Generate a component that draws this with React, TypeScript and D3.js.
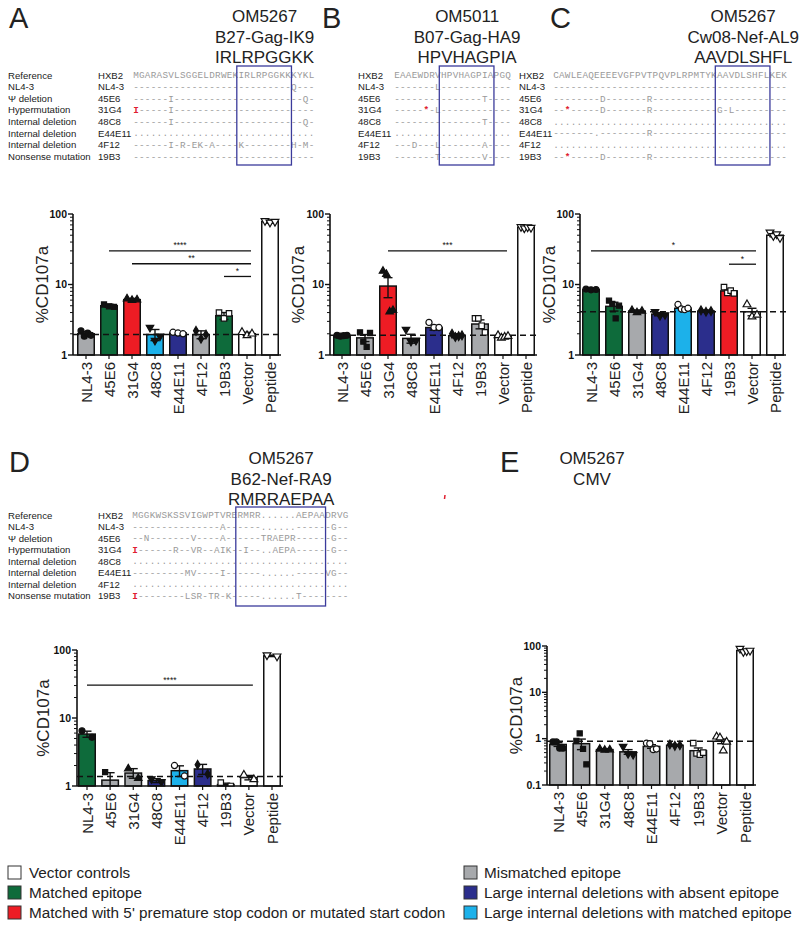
import React from "react";
import * as d3 from "d3";

const FONT = "'Liberation Sans', Arial, Helvetica, sans-serif";
const MONO = "'Liberation Mono', 'Courier New', monospace";

const categories = ["NL4-3", "45E6", "31G4", "48C8", "E44E11", "4F12", "19B3", "Vector", "Peptide"];
const rowTypes = ["Reference", "NL4-3", "Ψ deletion", "Hypermutation", "Internal deletion", "Internal deletion", "Internal deletion", "Nonsense mutation"];
const rowIds = ["HXB2", "NL4-3", "45E6", "31G4", "48C8", "E44E11", "4F12", "19B3"];

const PALETTE: Record<string, string> = {
  gray: "#a7a9ac", green: "#0e6b3b", red: "#ed1c24", light: "#1cb1ea", dark: "#2b2e8c", white: "#ffffff",
};

// ---------- sequences (mutations: index -> residue; "!" prefix = red) ----------
const seqA_ref = "MGARASVLSGGELDRWEKIRLRPGGKKKYKL";
const seqA_rows: [string, Record<number, string>][] = [
  ["-", { 27: "Q" }],
  ["-", { 6: "I", 29: "Q" }],
  ["-", { 0: "!I", 6: "I" }],
  ["-", { 6: "I", 29: "Q" }],
  [".", {}],
  ["-", { 6: "I", 8: "R", 10: "E", 11: "K", 13: "A", 18: "K", 27: "H", 29: "M" }],
  ["-", {}],
];
const seqB_ref = "EAAEWDRVHPVHAGPIAPGQ";
const seqB_rows: [string, Record<number, string>][] = [
  ["-", { 7: "L" }],
  ["-", { 15: "T" }],
  ["-", { 5: "!*", 7: "L" }],
  ["-", { 15: "T" }],
  [".", {}],
  ["-", { 3: "D", 7: "L", 15: "A" }],
  ["-", { 7: "T", 15: "V" }],
];
const seqC_ref = "CAWLEAQEEEEVGFPVTPQVPLRPMTYKAAVDLSHFLKEK";
const seqC_rows: [string, Record<number, string>][] = [
  ["-", {}],
  ["-", { 8: "D", 16: "R" }],
  ["-", { 2: "!*", 8: "D", 16: "R", 28: "G", 30: "L" }],
  [".", {}],
  ["-", { 7: ".", 16: "R" }],
  [".", {}],
  ["-", { 2: "!*", 8: "D", 16: "R" }],
];
const seqD_ref = "MGGKWSKSSVIGWPTVRERMRR......AEPAADRVG";
const dDots = { 22: ".", 23: ".", 24: ".", 25: ".", 26: ".", 27: "." };
const seqD_rows: [string, Record<number, string>][] = [
  ["-", { 15: "A", ...dDots, 34: "G" }],
  ["-", { 2: "N", 10: "V", 15: "A", 22: "T", 23: "R", 24: "A", 25: "E", 26: "P", 27: "R", 34: "G" }],
  ["-", { 0: "!I", 7: "R", 10: "V", 11: "R", 14: "A", 15: "I", 16: "K", 19: "I", 22: ".", 23: ".", 24: "A", 25: "E", 26: "P", 27: "A", 34: "G" }],
  [".", {}],
  ["-", { 9: "M", 10: "V", 15: "I", ...dDots, 33: "V", 34: "G" }],
  [".", {}],
  ["-", { 0: "!I", 9: "L", 10: "S", 11: "R", 13: "T", 14: "R", 16: "K", ...dDots, 28: "T" }],
];

// ---------- bar chart data ----------
const colorsA = ["gray", "green", "red", "light", "dark", "gray", "green", "white", "white"];
const meansA = [2.0, 5.0, 6.1, 1.95, 2.05, 1.95, 3.6, 2.0, 78];
const semsA = [0.15, 0.25, 0.25, 0.35, 0.08, 0.25, 0.4, 0.1, 4];
const pointsA = [[2.2, 1.85, 2.05, 1.9], [5.2, 4.9, 4.8], [6.3, 6.0, 6.1], [2.45, 1.6, 1.85], [2.1, 2.05, 2.0], [2.2, 1.7, 1.95], [4.0, 3.3, 3.9], [2.1, 1.9, 2.0], [80, 76, 78]];

const colorsB = ["green", "gray", "red", "gray", "dark", "gray", "gray", "white", "white"];
const meansB = [1.88, 1.75, 9.5, 1.72, 2.45, 1.88, 2.75, 1.82, 65];
const semsB = [0.05, 0.2, 3.0, 0.25, 0.2, 0.12, 0.4, 0.1, 3];
const pointsB = [[1.9, 1.85, 1.88, 1.9], [2.1, 1.55, 1.3, 2.05], [15.5, 14, 4.1, 4.3], [2.3, 1.55, 1.6], [2.9, 2.45, 2.45], [2.0, 1.8, 1.85, 1.9], [3.3, 3.3, 2.6, 2.1], [1.9, 1.75, 1.8, 1.85], [66, 63, 65, 64]];

const colorsC = ["green", "green", "gray", "dark", "light", "dark", "red", "white", "white"];
const meansC = [8.5, 4.9, 4.2, 3.8, 4.6, 4.2, 8.1, 4.1, 50];
const semsC = [0.15, 0.7, 0.15, 0.2, 0.2, 0.15, 0.5, 0.5, 3];
const pointsC = [[8.6, 8.4, 8.5], [5.9, 5.3, 3.3, 5.0], [4.3, 4.0, 4.2], [4.1, 3.6, 3.7], [5.2, 4.5, 4.4, 4.6], [4.3, 4.1, 4.2], [9.2, 7.6, 8.2, 7.5], [5.2, 3.5, 3.7], [55, 49, 52, 46]];

const colorsD = ["green", "gray", "gray", "dark", "light", "dark", "gray", "white", "white"];
const meansD = [5.8, 1.22, 1.55, 1.2, 1.68, 1.78, 1.05, 1.33, 82];
const semsD = [0.6, 0.35, 0.25, 0.08, 0.3, 0.3, 0.05, 0.1, 2];
const pointsD = [[6.5, 5.2], [1.6, 0.9], [1.8, 1.3], [1.27, 1.15], [2.0, 1.4], [2.05, 1.5], [1.12, 1.0], [1.45, 1.25], [84, 81]];

const colorsE = ["gray", "gray", "gray", "gray", "gray", "gray", "gray", "white", "white"];
const meansE = [0.75, 0.78, 0.58, 0.52, 0.68, 0.72, 0.55, 0.88, 80];
const semsE = [0.07, 0.2, 0.03, 0.06, 0.06, 0.03, 0.08, 0.1, 5];
const pointsE = [[0.85, 0.85, 0.62, 0.62], [0.9, 1.3, 0.6, 0.28], [0.6, 0.57, 0.58], [0.68, 0.47, 0.45], [0.8, 0.78, 0.58, 0.6], [0.75, 0.7, 0.72], [0.8, 0.48, 0.45, 0.5], [1.1, 1.05, 0.55, 0.85], [88, 75, 78, 80]];

const ticks1 = ["1", "10", "100"];
const ticksE = ["0.1", "1", "10", "100"];

const sigA: [number, number, number, string][] = [[1, 7, 30, "****"], [2, 7, 19.7, "**"], [6, 7, 13, "*"]];
const sigB: [number, number, number, string][] = [[2, 7, 30, "***"]];
const sigC: [number, number, number, string][] = [[0, 7, 30, "*"], [6, 7, 19.4, "*"]];
const sigD: [number, number, number, string][] = [[0, 7, 30.5, "****"]];
const sigE: [number, number, number, string][] = [];

const legendLeft = [["white", "Vector controls"], ["green", "Matched epitope"], ["red", "Matched with 5' premature stop codon or mutated start codon"]];
const legendRight = [["gray", "Mismatched epitope"], ["dark", "Large internal deletions with absent epitope"], ["light", "Large internal deletions with matched epitope"]];

const P = 5.85;

function buildRow(ref: string, fill: string, muts: Record<number, string>) {
  const out: { c: string; red: boolean }[] = [];
  for (let i = 0; i < ref.length; i++) {
    const m = muts[i];
    if (m !== undefined) {
      const red = m.startsWith("!");
      out.push({ c: red ? m.slice(1) : m, red });
    } else out.push({ c: fill, red: false });
  }
  return out;
}

function Alignment(props: {
  showTypes: boolean; idX: number; seqX: number; y0: number; dy: number;
  ref: string; rows: [string, Record<number, string>][]; box: [number, number]; boxTop: number; boxBottom: number;
}) {
  const { showTypes, idX, seqX, y0, dy, ref, rows, box, boxTop, boxBottom } = props;
  const allRows = [ref.split("").map((c) => ({ c, red: false })), ...rows.map(([f, m]) => buildRow(ref, f, m))];
  return (
    <g>
      {showTypes && rowTypes.map((t, i) => (
        <text key={"t" + i} x={8} y={y0 + i * dy + 3.5} fontSize={9.6} fontFamily={FONT} fill="#222">{t}</text>
      ))}
      {rowIds.map((t, i) => (
        <text key={"i" + i} x={idX} y={y0 + i * dy + 3.5} fontSize={9.6} fontFamily={FONT} fill="#222">{t}</text>
      ))}
      {allRows.map((row, ri) => row.map((ch, ci) => (
        <text key={ri + "-" + ci} x={seqX + ci * P + P / 2} y={y0 + ri * dy + 3.2} textAnchor="middle"
          fontSize={9.3} fontFamily={MONO} fill={ch.red ? "#e02030" : "#9a9a9a"} fontWeight={ch.red ? "bold" : "normal"}>{ch.c}</text>
      )))}
      <rect x={seqX + box[0] * P - 1.5} y={boxTop} width={(box[1] - box[0] + 1) * P + 2} height={boxBottom - boxTop}
        fill="none" stroke="#3b3b9b" strokeWidth={1.3} />
    </g>
  );
}

function Marker({ idx, cx, cy }: { idx: number; cx: number; cy: number }) {
  const types = [d3.symbolCircle, d3.symbolSquare, d3.symbolTriangle, d3.symbolTriangle, d3.symbolCircle, d3.symbolDiamond, d3.symbolSquare, d3.symbolTriangle, d3.symbolTriangle];
  const sizes = [28, 26, 24, 24, 30, 22, 30, 26, 26];
  const open = [false, false, false, false, true, false, true, true, true];
  const rot = idx === 3 || idx === 8 ? 180 : 0;
  const path = d3.symbol().type(types[idx]).size(sizes[idx])()!;
  return (
    <path d={path} transform={`translate(${cx},${cy}) rotate(${rot})`}
      fill={open[idx] ? "#fff" : "#111"} stroke="#111" strokeWidth={1.2} />
  );
}

function BarPanel(props: {
  axisX: number; first: number; last: number; yTop: number; yBottom: number; domain: [number, number];
  tickLabels: string[]; means: number[]; sems: number[]; points: number[][]; colors: string[];
  dashed: number; sigs: [number, number, number, string][]; labelOffset: number;
}) {
  const { axisX, first, last, yTop, yBottom, domain, tickLabels, means, sems, points, colors, dashed, sigs, labelOffset } = props;
  const y = d3.scaleLog().domain(domain).range([yBottom, yTop]);
  const x = d3.scalePoint<string>().domain(categories).range([first, last]);
  const bw = 16.5;
  const right = last + 11;
  const minor: number[] = [];
  const majors = tickLabels.map(Number);
  majors.forEach((m) => { for (let k = 2; k <= 9; k++) { const v = m * k; if (v < domain[1]) minor.push(v); } });
  const clipId = "clip" + axisX;
  return (
    <g>
      <defs>
        <clipPath id={clipId}><rect x={axisX} y={yTop - 20} width={right - axisX + 10} height={yBottom - yTop + 20} /></clipPath>
      </defs>
      {categories.map((c, i) => {
        const top = y(means[i]);
        return <rect key={c} x={x(c)! - bw / 2} y={top} width={bw} height={yBottom - top}
          fill={PALETTE[colors[i]]} stroke="#111" strokeWidth={1.5} />;
      })}
      <line x1={axisX} x2={right} y1={y(dashed)} y2={y(dashed)} stroke="#111" strokeWidth={1.5} strokeDasharray="6,4" />
      <g clipPath={`url(#${clipId})`}>
        {categories.map((c, i) => {
          const lo = Math.max(means[i] - sems[i], domain[0]);
          const hi = means[i] + sems[i];
          const cx = x(c)!;
          return (
            <g key={c}>
              <line x1={cx} x2={cx} y1={y(lo)} y2={y(hi)} stroke="#111" strokeWidth={1.4} />
              <line x1={cx - 4.5} x2={cx + 4.5} y1={y(hi)} y2={y(hi)} stroke="#111" strokeWidth={1.4} />
              <line x1={cx - 4.5} x2={cx + 4.5} y1={y(lo)} y2={y(lo)} stroke="#111" strokeWidth={1.4} />
            </g>
          );
        })}
        {categories.map((c, i) => points[i].map((v, j) => {
          const n = points[i].length;
          const off = n === 1 ? 0 : -5 + (10 * j) / (n - 1);
          return <Marker key={c + j} idx={i} cx={x(c)! + off} cy={y(v)} />;
        }))}
      </g>
      {sigs.map(([a, b, v, s], k) => {
        const x1 = x(categories[a])!;
        const x2 = x(categories[b])! + 4;
        return (
          <g key={k}>
            <line x1={x1} x2={x2} y1={y(v)} y2={y(v)} stroke="#111" strokeWidth={1.3} />
            <text x={(x1 + x2) / 2} y={y(v) - 2.5} textAnchor="middle" fontSize={8.5} fontFamily={FONT} fill="#111">{s}</text>
          </g>
        );
      })}
      <line x1={axisX} x2={axisX} y1={yTop} y2={yBottom} stroke="#111" strokeWidth={1.6} />
      <line x1={axisX} x2={right} y1={yBottom} y2={yBottom} stroke="#111" strokeWidth={1.6} />
      {majors.map((m, i) => (
        <g key={m}>
          <line x1={axisX - 5} x2={axisX} y1={y(m)} y2={y(m)} stroke="#111" strokeWidth={1.4} />
          <text x={axisX - 6} y={y(m) + 3.8} textAnchor="end" fontSize={10.5} fontWeight="bold" fontFamily={FONT} fill="#111">{tickLabels[i]}</text>
        </g>
      ))}
      {minor.map((m) => (
        <line key={m} x1={axisX - 3} x2={axisX} y1={y(m)} y2={y(m)} stroke="#111" strokeWidth={1} />
      ))}
      {categories.map((c) => (
        <g key={c}>
          <line x1={x(c)!} x2={x(c)!} y1={yBottom} y2={yBottom + 4} stroke="#111" strokeWidth={1.2} />
          <text transform={`translate(${x(c)! + 5.5},${yBottom + 7}) rotate(-90)`} textAnchor="end" fontSize={15} fontFamily={FONT} fill="#222">{c}</text>
        </g>
      ))}
      <text transform={`translate(${axisX - labelOffset},${(yTop + yBottom) / 2}) rotate(-90)`} textAnchor="middle"
        fontSize={17} fontFamily={FONT} fill="#222">%CD107a</text>
    </g>
  );
}

function Title({ cx, y0, lines }: { cx: number; y0: number; lines: string[] }) {
  return (
    <g>
      {lines.map((l, i) => (
        <text key={i} x={cx} y={y0 + i * 20.5} textAnchor="middle" fontSize={17} fontFamily={FONT} fill="#222">{l}</text>
      ))}
    </g>
  );
}

function PanelLetter({ x, y, t }: { x: number; y: number; t: string }) {
  return <text x={x} y={y} fontSize={29} fontFamily={FONT} fill="#222">{t}</text>;
}

export default function App() {
  const boxCenter = (seqX: number, b: [number, number]) => seqX + ((b[0] + b[1] + 1) / 2) * P;
  const seqAX = 133, seqBX = 394, seqCX = 553, seqDX = 132;
  return (
    <svg width={800} height={929} style={{ position: "absolute", left: 0, top: 0, background: "#fff" }}>
      <rect width={800} height={929} fill="#fff" />
      {/* Row 1 headers */}
      <PanelLetter x={9} y={28} t="A" />
      <PanelLetter x={322} y={28} t="B" />
      <PanelLetter x={550} y={28} t="C" />
      <Title cx={boxCenter(seqAX, [18, 26])} y0={22} lines={["OM5267", "B27-Gag-IK9", "IRLRPGGKK"]} />
      <Title cx={boxCenter(seqBX, [8, 16])} y0={22} lines={["OM5011", "B07-Gag-HA9", "HPVHAGPIA"]} />
      <Title cx={boxCenter(seqCX, [28, 36])} y0={22} lines={["OM5267", "Cw08-Nef-AL9", "AAVDLSHFL"]} />

      <Alignment showTypes idX={98} seqX={seqAX} y0={75} dy={11.65} ref={seqA_ref} rows={seqA_rows} box={[18, 26]} boxTop={66} boxBottom={165} />
      <Alignment showTypes={false} idX={358} seqX={seqBX} y0={75} dy={11.65} ref={seqB_ref} rows={seqB_rows} box={[8, 16]} boxTop={66} boxBottom={165} />
      <Alignment showTypes={false} idX={519} seqX={seqCX} y0={75} dy={11.65} ref={seqC_ref} rows={seqC_rows} box={[28, 36]} boxTop={66} boxBottom={165} />

      <BarPanel axisX={73} first={86} last={270} yTop={214} yBottom={355} domain={[1, 100]} tickLabels={ticks1}
        means={meansA} sems={semsA} points={pointsA} colors={colorsA} dashed={1.95} sigs={sigA} labelOffset={25} />
      <BarPanel axisX={330} first={342} last={526} yTop={214} yBottom={355} domain={[1, 100]} tickLabels={ticks1}
        means={meansB} sems={semsB} points={pointsB} colors={colorsB} dashed={1.9} sigs={sigB} labelOffset={26} />
      <BarPanel axisX={580} first={591} last={775} yTop={214} yBottom={355} domain={[1, 100]} tickLabels={ticks1}
        means={meansC} sems={semsC} points={pointsC} colors={colorsC} dashed={4.1} sigs={sigC} labelOffset={25} />

      {/* Row 2 */}
      <PanelLetter x={9} y={472} t="D" />
      <PanelLetter x={500} y={472} t="E" />
      <Title cx={boxCenter(seqDX, [18, 32])} y0={464} lines={["OM5267", "B62-Nef-RA9", "RMRRAEPAA"]} />
      <Title cx={592} y0={464} lines={["OM5267", "CMV"]} />
      <Alignment showTypes idX={98} seqX={seqDX} y0={515} dy={11.5} ref={seqD_ref} rows={seqD_rows} box={[18, 32]} boxTop={507} boxBottom={606} />
      <line x1={445} x2={444.5} y1={495} y2={499} stroke="#e02030" strokeWidth={1.5} />

      <BarPanel axisX={77} first={87} last={272} yTop={650} yBottom={786} domain={[1, 100]} tickLabels={ticks1}
        means={meansD} sems={semsD} points={pointsD} colors={colorsD} dashed={1.38} sigs={sigD} labelOffset={28} />
      <BarPanel axisX={547} first={558} last={745} yTop={646} yBottom={785} domain={[0.1, 100]} tickLabels={ticksE}
        means={meansE} sems={semsE} points={pointsE} colors={colorsE} dashed={0.88} sigs={sigE} labelOffset={25} />

      {/* Legend */}
      {legendLeft.map(([c, t], i) => (
        <g key={t}>
          <rect x={8} y={866 + i * 20} width={13} height={13} fill={PALETTE[c]} stroke="#333" strokeWidth={1} />
          <text x={29} y={878 + i * 20} fontSize={15.3} fontFamily={FONT} fill="#222">{t}</text>
        </g>
      ))}
      {legendRight.map(([c, t], i) => (
        <g key={t}>
          <rect x={464} y={866 + i * 20} width={13} height={13} fill={PALETTE[c]} stroke="#333" strokeWidth={1} />
          <text x={484} y={878 + i * 20} fontSize={15.3} fontFamily={FONT} fill="#222">{t}</text>
        </g>
      ))}
    </svg>
  );
}
